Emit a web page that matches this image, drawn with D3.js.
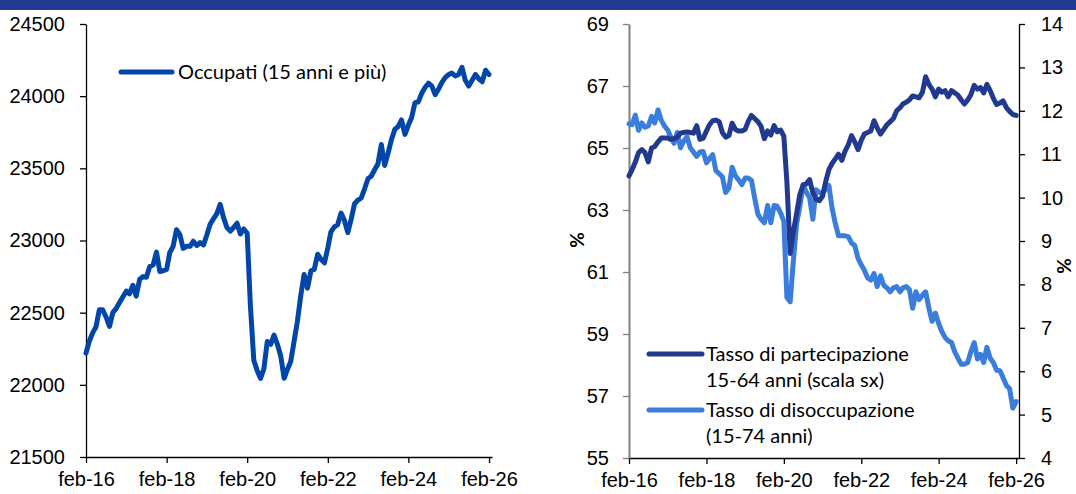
<!DOCTYPE html>
<html>
<head>
<meta charset="utf-8">
<script src="https://cdn.jsdelivr.net/npm/d3@7"></script>
<style>
  body { margin: 0; background: #fff; }
  svg { display: block; font-family: Lato, "Open Sans", sans-serif; }
  .tick text { font-size: 20px; fill: #000; }
</style>
</head>
<body>
<svg id="chart" width="1076" height="494"></svg>
<script>
// occupati, migliaia (feb-16 .. feb-26, mensile)
const occupati = [
  22220, 22300, 22360, 22400, 22520, 22520, 22470, 22405, 22500, 22530, 22570, 22610,
  22650, 22630, 22690, 22615, 22730, 22750, 22745, 22820, 22830, 22920, 22785, 22790,
  22800, 22915, 22960, 23075, 23040, 22945, 22960, 22960, 22995, 22965, 22985, 22970,
  23040, 23110, 23150, 23185, 23250, 23160, 23090, 23065, 23090, 23120, 23045, 23080,
  23050, 22550, 22170, 22100, 22045, 22110, 22300, 22280, 22345, 22280, 22200, 22045,
  22110, 22160, 22300, 22440, 22620, 22765, 22670, 22790, 22800, 22905, 22870, 22845,
  22950, 23060, 23095, 23110, 23190, 23140, 23055, 23150, 23255, 23280, 23295, 23360,
  23430, 23445, 23490, 23530, 23665, 23520, 23605, 23700, 23770, 23790, 23835, 23735,
  23800, 23850, 23955, 23960, 24020, 24060, 24090, 24070, 24010, 24050, 24095, 24130,
  24150, 24160, 24140, 24150, 24200, 24110, 24070, 24110, 24150, 24120, 24100, 24180,
  24150
];

// tasso di partecipazione 15-64 (scala sx)
const partecipazione = [
  64.1, 64.3, 64.55, 64.85, 64.95, 64.85, 64.55, 65.0, 65.05, 65.2, 65.32, 65.32,
  65.32, 65.28, 65.3, 65.35, 65.48, 65.5, 65.52, 65.5, 65.48, 65.72, 65.28, 65.32,
  65.55, 65.75, 65.88, 65.9, 65.85, 65.5, 65.35, 65.4, 65.8, 65.6, 65.55, 65.55,
  65.6, 65.85, 66.05, 65.95, 65.85, 65.7, 65.3, 65.55, 65.42, 65.72, 65.52, 65.58,
  65.38, 63.9, 61.6, 62.3, 62.9, 63.5, 63.8, 63.85, 63.98, 63.55, 63.35, 63.3,
  63.45, 63.9, 64.3, 64.5, 64.65, 64.8, 64.6, 64.9, 65.1, 65.4, 65.2, 64.95,
  65.25, 65.45, 65.5, 65.55, 65.88, 65.65, 65.45, 65.6, 65.75, 65.85, 65.95, 66.2,
  66.3, 66.42, 66.48, 66.55, 66.68, 66.65, 66.62, 66.8, 67.3, 67.05, 66.9, 66.65,
  66.9, 66.8, 66.85, 66.65, 66.85, 66.78, 66.7, 66.55, 66.42, 66.55, 66.72, 67.02,
  66.9, 66.95, 66.78, 67.05, 66.85, 66.6, 66.4, 66.45, 66.52, 66.3, 66.18, 66.08,
  66.05
];

// tasso di disoccupazione 15-74 (scala dx)
const disoccupazione = [
  11.7, 11.68, 11.9, 11.55, 11.72, 11.62, 11.65, 11.87, 11.72, 12.02, 11.78, 11.65,
  11.55, 11.4, 11.25, 11.5, 11.15, 11.3, 11.4, 11.15, 11.05, 10.95, 11.05, 11.06,
  10.8, 10.9, 10.99, 10.62, 10.55, 10.48, 10.12, 10.22, 10.7, 10.5, 10.41, 10.3,
  10.45, 10.45, 10.4, 10.0, 9.62, 9.5, 9.42, 9.82, 9.42, 9.82, 9.8, 9.65,
  9.45, 7.7, 7.6, 8.55, 9.4, 9.8, 10.3, 10.12, 10.0, 9.5, 10.18, 10.12,
  10.1, 10.2, 10.28, 9.76, 9.4, 9.12, 9.12, 9.12, 9.1, 8.95, 8.9, 8.6,
  8.45, 8.33, 8.15, 8.1, 8.25, 7.95, 8.2, 7.98, 7.92, 7.83, 7.92, 7.95,
  7.83, 7.92, 7.95, 7.88, 7.45, 7.83, 7.65, 7.75, 7.83, 7.45, 7.15, 7.34,
  7.1, 6.92, 6.78, 6.7, 6.66, 6.45, 6.3, 6.16, 6.16, 6.2, 6.45, 6.66,
  6.28, 6.39, 6.2, 6.55, 6.3, 6.2, 6.02, 6.01, 5.85, 5.67, 5.6, 5.15,
  5.3
];

const leftTicks = [21500, 22000, 22500, 23000, 23500, 24000, 24500];
const rateTicksSx = [55, 57, 59, 61, 63, 65, 67, 69];
const rateTicksDx = [4, 5, 6, 7, 8, 9, 10, 11, 12, 13, 14];
const xTickYears = [2016, 2018, 2020, 2022, 2024, 2026];

const itLocale = d3.timeFormatLocale({
  dateTime: "%A %e %B %Y, %X", date: "%d/%m/%Y", time: "%H:%M:%S",
  periods: ["AM", "PM"],
  days: ["domenica", "lunedì", "martedì", "mercoledì", "giovedì", "venerdì", "sabato"],
  shortDays: ["dom", "lun", "mar", "mer", "gio", "ven", "sab"],
  months: ["gennaio", "febbraio", "marzo", "aprile", "maggio", "giugno", "luglio", "agosto", "settembre", "ottobre", "novembre", "dicembre"],
  shortMonths: ["gen", "feb", "mar", "apr", "mag", "giu", "lug", "ago", "set", "ott", "nov", "dic"]
});
const fmtMonth = itLocale.format("%b-%y");

const months = occupati.map((_, i) => new Date(2016, 1 + i, 1));
const xTicks = xTickYears.map(y => new Date(y, 1, 1));
const xDomain = [new Date(2016, 1, 1), new Date(2026, 1, 28)];

const svg = d3.select("#chart");

// fascia blu in alto
svg.append("rect").attr("x", 0).attr("y", 0).attr("width", 1076).attr("height", 10).attr("fill", "#213a8f");

function styleAxis(g, color) {
  g.select(".domain").attr("stroke", color).attr("stroke-width", 1.3);
  g.selectAll(".tick line").attr("stroke", color).attr("stroke-width", 1.3);
}

// ---------- pannello sinistro ----------
const plotTop = 24, plotBottom = 457;
const xL = d3.scaleTime().domain(xDomain).range([86, 492]);
const yL = d3.scaleLinear().domain([21500, 24500]).range([plotBottom, plotTop]);

const gxL = svg.append("g").attr("transform", `translate(0,${plotBottom})`)
  .call(d3.axisBottom(xL).tickValues(xTicks).tickFormat(fmtMonth).tickSizeOuter(0).tickSizeInner(6).tickPadding(9));
styleAxis(gxL, "#000");
const gyL = svg.append("g").attr("transform", `translate(86,0)`)
  .call(d3.axisLeft(yL).tickValues(leftTicks).tickFormat(d3.format("d")).tickSizeOuter(0).tickSizeInner(6).tickPadding(15));
styleAxis(gyL, "#000");

const lineL = d3.line().x((d, i) => xL(months[i])).y(d => yL(d));
svg.append("path").datum(occupati)
  .attr("d", lineL).attr("fill", "none").attr("stroke", "#0346a9")
  .attr("stroke-width", 5).attr("stroke-linejoin", "round").attr("stroke-linecap", "round");

svg.append("line").attr("x1", 121).attr("x2", 172).attr("y1", 72).attr("y2", 72)
  .attr("stroke", "#0346a9").attr("stroke-width", 5).attr("stroke-linecap", "round");
svg.append("text").attr("x", 178).attr("y", 72).attr("dy", "0.35em")
  .style("font-size", "20px").text("Occupati (15 anni e più)");

// ---------- pannello destro ----------
const plotBottomR = 458;
const xR = d3.scaleTime().domain(xDomain).range([629, 1019]);
const ySx = d3.scaleLinear().domain([55, 69]).range([plotBottomR, plotTop]);
const yDx = d3.scaleLinear().domain([4, 14]).range([plotBottomR, plotTop]);

const gxR = svg.append("g").attr("transform", `translate(0,${plotBottomR})`)
  .call(d3.axisBottom(xR).tickValues(xTicks).tickFormat(fmtMonth).tickSizeOuter(0).tickSizeInner(6).tickPadding(9));
styleAxis(gxR, "#000");
const gySx = svg.append("g").attr("transform", `translate(629,0)`)
  .call(d3.axisLeft(ySx).tickValues(rateTicksSx).tickFormat(d3.format("d")).tickSizeOuter(0).tickSizeInner(6).tickPadding(14));
styleAxis(gySx, "#808080");
gySx.select(".domain").attr("stroke-width", 2);
const gyDx = svg.append("g").attr("transform", `translate(1019,0)`)
  .call(d3.axisRight(yDx).tickValues(rateTicksDx).tickFormat(d3.format("d")).tickSizeOuter(0).tickSizeInner(6).tickPadding(16));
styleAxis(gyDx, "#000");

const lineSx = d3.line().x((d, i) => xR(months[i])).y(d => ySx(d));
const lineDx = d3.line().x((d, i) => xR(months[i])).y(d => yDx(d));

svg.append("path").datum(disoccupazione)
  .attr("d", lineDx).attr("fill", "none").attr("stroke", "#3a7ddc")
  .attr("stroke-width", 5).attr("stroke-linejoin", "round").attr("stroke-linecap", "round");
svg.append("path").datum(partecipazione)
  .attr("d", lineSx).attr("fill", "none").attr("stroke", "#213a8f")
  .attr("stroke-width", 5).attr("stroke-linejoin", "round").attr("stroke-linecap", "round");

svg.append("text").attr("transform", "translate(577,240) rotate(-90)")
  .attr("text-anchor", "middle").attr("dy", "0.35em")
  .style("font-size", "19px").style("font-weight", "bold").text("%");
svg.append("text").attr("transform", "translate(1064,266) rotate(-90)")
  .attr("text-anchor", "middle").attr("dy", "0.35em")
  .style("font-size", "19px").style("font-weight", "bold").text("%");

// legenda
const legend = [
  { color: "#213a8f", y: 354, lines: ["Tasso di partecipazione", "15-64 anni (scala sx)"] },
  { color: "#3a7ddc", y: 410, lines: ["Tasso di disoccupazione", "(15-74 anni)"] }
];
legend.forEach(l => {
  svg.append("line").attr("x1", 649).attr("x2", 702).attr("y1", l.y).attr("y2", l.y)
    .attr("stroke", l.color).attr("stroke-width", 5).attr("stroke-linecap", "round");
  const t = svg.append("text").attr("x", 706).attr("y", l.y).style("font-size", "20px");
  l.lines.forEach((s, k) => {
    t.append("tspan").attr("x", 706).attr("dy", k === 0 ? "0.35em" : "1.32em").text(s);
  });
});
</script>
</body>
</html>
